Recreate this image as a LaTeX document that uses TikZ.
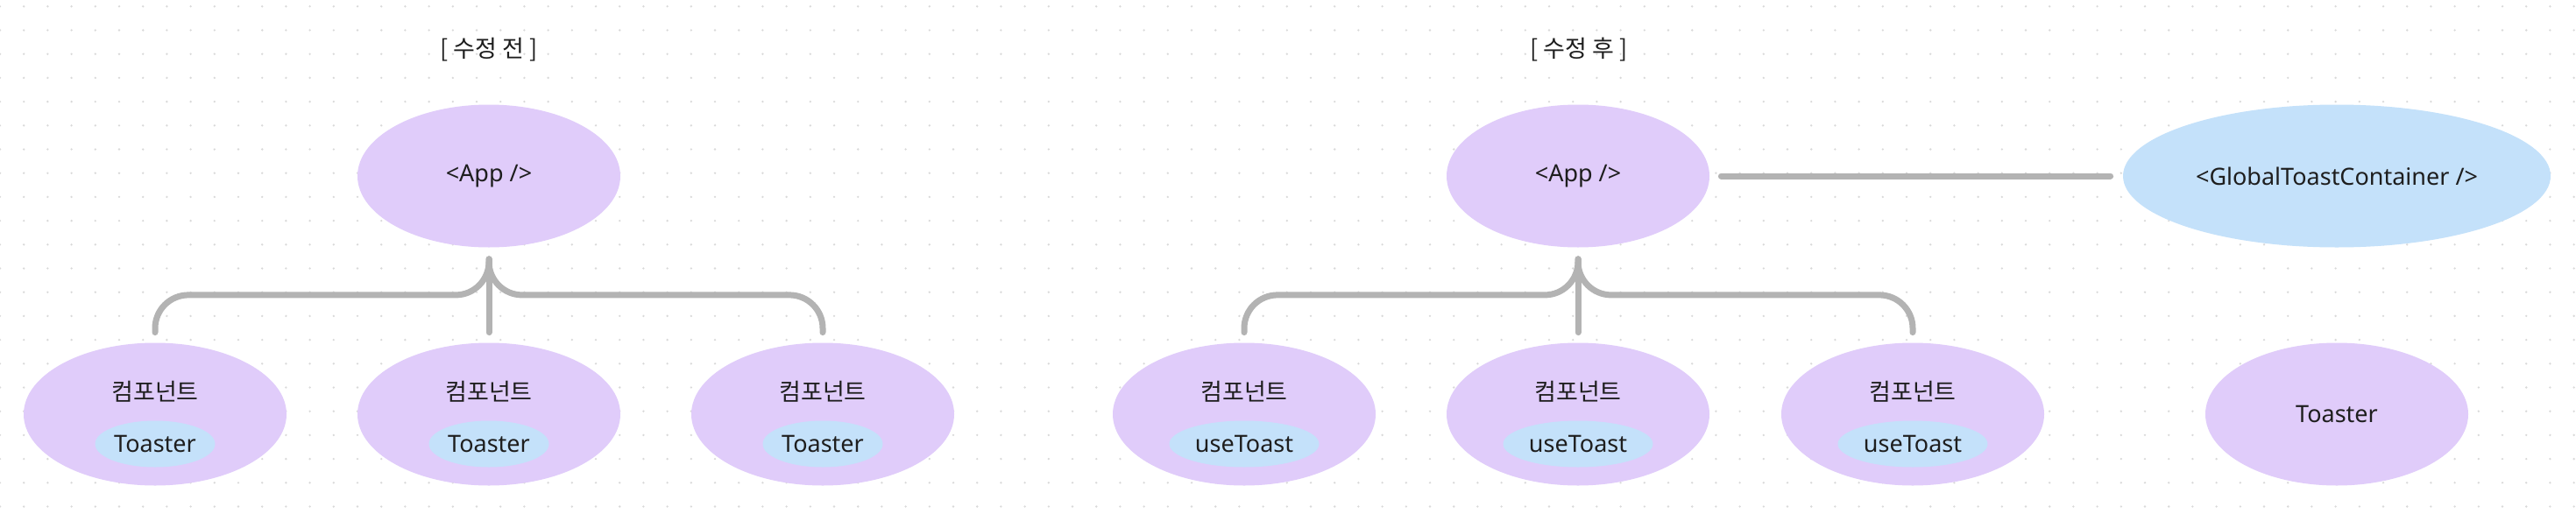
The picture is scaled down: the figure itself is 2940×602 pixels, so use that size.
\documentclass[tikz,border=0pt]{standalone}
\usepackage{fontspec}
\setmainfont{Noto Sans}
\newfontfamily\krfont{Noto Sans CJK KR}
\usetikzlibrary{shapes.geometric,positioning}

\definecolor{compfill}{HTML}{E0CCFA}
\definecolor{toastfill}{HTML}{C4E1FA}
\definecolor{linkgray}{HTML}{B3B3B3}
\definecolor{dotgray}{HTML}{D9D9D9}
\definecolor{textdark}{HTML}{1E1E1E}

\newcommand{\lblsize}{\fontsize{13.5}{16}\selectfont}

\tikzstyle{comp} = [ellipse, fill=compfill, minimum width=150pt, minimum height=81.5pt, inner sep=0pt, text=textdark, font=\lblsize]
\tikzstyle{toast} = [ellipse, fill=toastfill, minimum height=26.5pt, inner sep=0pt, text=textdark, font=\lblsize]
\tikzstyle{krlabel} = [text=textdark, font=\krfont\lblsize, inner sep=0pt]
\tikzstyle{link} = [draw=linkgray, line width=3.5pt, line cap=round, rounded corners=19pt]

\begin{document}
\begin{tikzpicture}
        \tikzset{x=0.5pt, y=0.5pt}
        % Background and dot grid
        \fill[white] (0,0) rectangle (2940,602);
        \useasboundingbox (0,0) rectangle (2940,602);
        \foreach \i in {0,...,108}
            \foreach \j in {0,...,21}
                \fill[dotgray] (27.2*\i, 594.7-27.2*\j) circle (0.65pt);

        % Before
        \node[krlabel] (before) at (558,545) {[ 수정 전 ]};
        \node[comp] (app1) at (558,401) {<App />};
        \foreach \i/\x in {1/177,2/558,3/939} {
            \node[comp] (c\i) at (\x,129) {};
            \node[krlabel] (c\i-name) at ([yshift=13pt]c\i.center) {컴포넌트};
            \node[toast, minimum width=68.5pt] (c\i-toaster) at ([yshift=-17pt]c\i.center) {Toaster};
        }
        \draw[link] ([yshift=5.75pt]c1.north) |- ([yshift=-27pt]app1.south) -| ([yshift=-6.5pt]app1.south);
        \draw[link] ([yshift=5.75pt]c3.north) |- ([yshift=-27pt]app1.south) -| ([yshift=-6.5pt]app1.south);
        \draw[link] ([yshift=5.75pt]c2.north) -- ([yshift=-6.5pt]app1.south);

        % After
        \node[krlabel] (after) at (1802,545) {[ 수정 후 ]};
        \node[comp] (app2) at (1801,401) {<App />};
        \node[comp, fill=toastfill, minimum width=244pt] (container) at (2667,401) {<GlobalToastContainer />};
        \foreach \i/\x in {1/1420,2/1801,3/2183} {
            \node[comp] (u\i) at (\x,129) {};
            \node[krlabel] (u\i-name) at ([yshift=13pt]u\i.center) {컴포넌트};
            \node[toast, minimum width=85.5pt] (u\i-hook) at ([yshift=-17pt]u\i.center) {useToast};
        }
        \node[comp] (toaster) at (2667,129) {Toaster};
        \draw[link] ([yshift=5.75pt]u1.north) |- ([yshift=-27pt]app2.south) -| ([yshift=-6.5pt]app2.south);
        \draw[link] ([yshift=5.75pt]u3.north) |- ([yshift=-27pt]app2.south) -| ([yshift=-6.5pt]app2.south);
        \draw[link] ([yshift=5.75pt]u2.north) -- ([yshift=-6.5pt]app2.south);
        \draw[link] ([xshift=6.5pt]app2.east) -- ([xshift=-7pt]container.west);
\end{tikzpicture}
\end{document}
